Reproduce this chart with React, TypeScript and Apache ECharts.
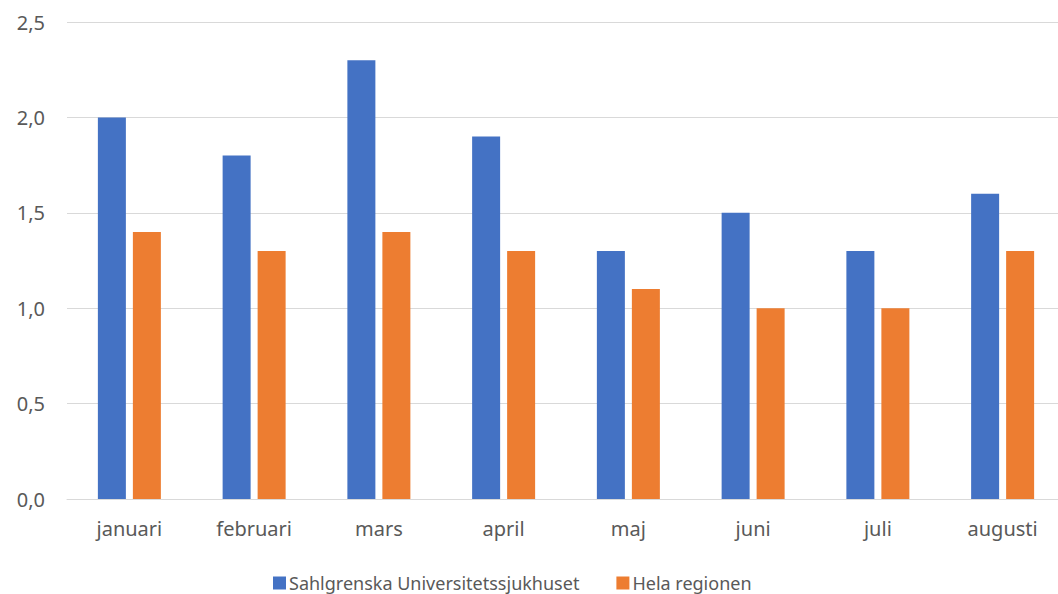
import React, { useEffect, useRef } from "react";
import * as echarts from "echarts";

const categories = ["januari", "februari", "mars", "april", "maj", "juni", "juli", "augusti"];
const sahlgrenska = [2.0, 1.8, 2.3, 1.9, 1.3, 1.5, 1.3, 1.6];
const helaRegionen = [1.4, 1.3, 1.4, 1.3, 1.1, 1.0, 1.0, 1.3];
const seriesNames = ["Sahlgrenska Universitetssjukhuset", "Hela regionen"];

const FONT = "'Noto Sans', 'Open Sans', sans-serif";

export default function App() {
  const ref = useRef<HTMLDivElement>(null);
  useEffect(() => {
    if (!ref.current) return;
    document.body.style.overflow = "hidden";
    const chart = echarts.init(ref.current, undefined, { renderer: "svg" });
    chart.setOption({
      animation: false,
      backgroundColor: "#ffffff",
      grid: { left: 67, right: 5, top: 22, height: 477, containLabel: false },
      legend: {
        top: 569,
        left: 268,
        itemWidth: 13,
        itemHeight: 13,
        itemGap: 37,
        icon: "rect",
        textStyle: { fontFamily: FONT, fontSize: 18, color: "#595959", padding: [0, 0, 0, -2] },
        data: seriesNames,
      },
      xAxis: {
        type: "category",
        data: categories,
        axisLine: { lineStyle: { color: "#d9d9d9", width: 1 } },
        axisTick: { show: false },
        axisLabel: { fontFamily: FONT, fontSize: 20, color: "#595959", margin: 19 },
      },
      yAxis: {
        type: "value",
        min: 0,
        max: 2.5,
        interval: 0.5,
        axisLine: { show: false },
        axisTick: { show: false },
        splitLine: { lineStyle: { color: "#d9d9d9", width: 1 } },
        axisLabel: {
          fontFamily: FONT,
          fontSize: 20,
          color: "#595959",
          margin: 22,
          formatter: (v: number) => v.toFixed(1).replace(".", ","),
        },
      },
      series: [
        {
          name: seriesNames[0],
          type: "bar",
          data: sahlgrenska,
          barWidth: 28,
          barGap: "25%",
          itemStyle: { color: "#4472C4" },
        },
        {
          name: seriesNames[1],
          type: "bar",
          data: helaRegionen,
          barWidth: 28,
          barGap: "25%",
          itemStyle: { color: "#ED7D31" },
        },
      ],
    });
    return () => chart.dispose();
  }, []);
  return (
    <div
      ref={ref}
      style={{ position: "fixed", left: 0, top: 0, width: 1070, height: 594, overflow: "hidden" }}
    />
  );
}
